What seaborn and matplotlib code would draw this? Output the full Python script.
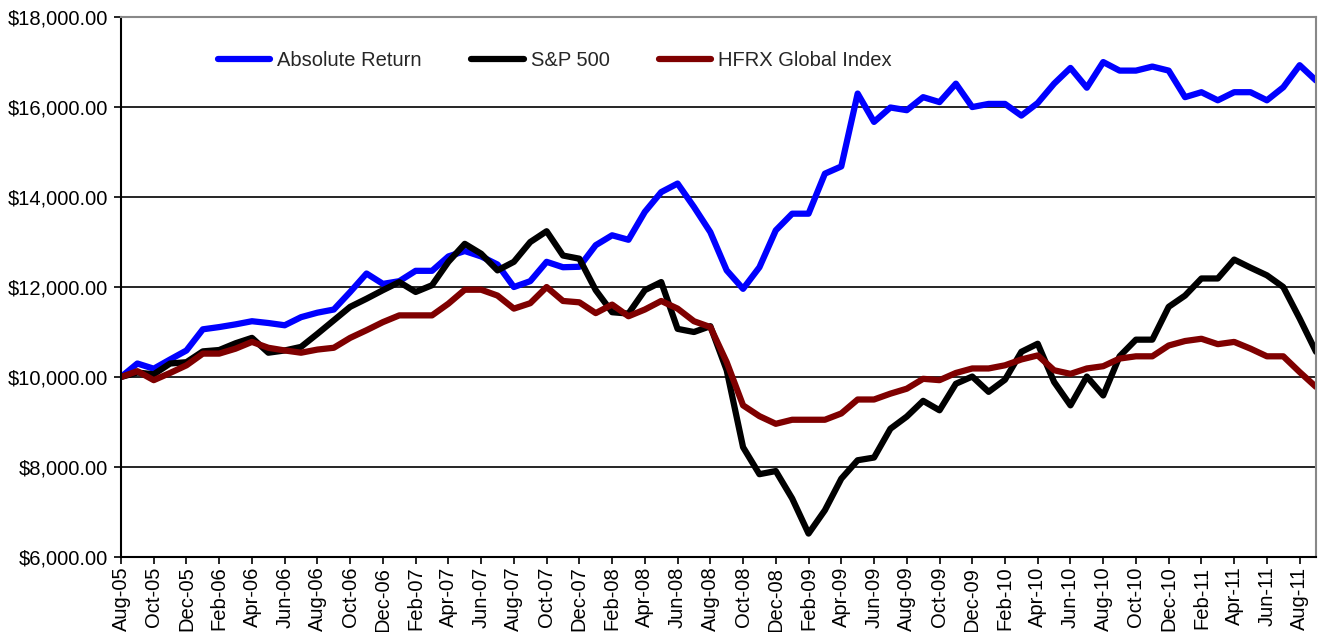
import pandas as pd
import numpy as np
import matplotlib
matplotlib.use("Agg")
import matplotlib.pyplot as plt
import matplotlib.ticker as mticker
import seaborn as sns

# ==========================================
# DATA
# ==========================================

months = pd.date_range(
    "2005-08-01",
    periods=74,
    freq="MS"
).strftime("%b-%y").tolist()

absolute_return = [
    10000, 10300, 10185, 10390, 10590, 11060, 11110, 11170, 11240, 11200,
    11150, 11330, 11430, 11500, 11890, 12300, 12070, 12130, 12360, 12360,
    12680, 12800, 12680, 12500, 12000, 12130, 12560, 12440, 12450, 12930,
    13150, 13050, 13670, 14110, 14300, 13780, 13220, 12370, 11960, 12440,
    13260, 13630, 13630, 14520, 14680, 16300, 15670, 15990, 15930, 16220,
    16110, 16520, 16000, 16070, 16070, 15810, 16090, 16520, 16870, 16430,
    17000, 16810, 16810, 16900, 16810, 16220, 16330, 16150, 16330, 16330,
    16150, 16440, 16930, 16590
]

sp500 = [
    10000, 10100, 10060, 10300, 10330, 10570, 10600, 10750, 10870, 10540,
    10590, 10670, 10960, 11260, 11560, 11740, 11930, 12110, 11890, 12040,
    12560, 12960, 12740, 12370, 12560, 13000, 13240, 12700, 12630, 11930,
    11440, 11410, 11930, 12110, 11070, 11000, 11130, 10150, 8440, 7840,
    7910, 7300, 6520, 7040, 7740, 8150, 8210, 8850, 9120, 9470,
    9260, 9850, 10010, 9670, 9940, 10560, 10740, 9890, 9370, 10010,
    9590, 10460, 10830, 10830, 11560, 11810, 12190, 12190, 12610, 12430,
    12260, 12000, 11300, 10560
]

hfrx_global = [
    10000, 10130, 9930, 10090, 10260, 10520, 10520, 10630, 10780, 10650,
    10590, 10540, 10610, 10650, 10870, 11040, 11220, 11370, 11370, 11370,
    11630, 11940, 11940, 11810, 11520, 11640, 12000, 11690, 11660, 11420,
    11610, 11350, 11500, 11690, 11520, 11240, 11110, 10330, 9370, 9130,
    8960, 9050, 9050, 9050, 9190, 9500, 9500, 9630, 9740, 9960,
    9930, 10090, 10190, 10190, 10260, 10390, 10480, 10150, 10070, 10190,
    10240, 10410, 10460, 10460, 10700, 10800, 10850, 10730, 10780, 10630,
    10460, 10460, 10110, 9780
]

series_names = [
    "Absolute Return",
    "S&P 500",
    "HFRX Global Index"
]

series_colors = [
    "#0000FF",
    "#000000",
    "#7F0000"
]

df = pd.DataFrame(
    {
        "Month": months,
        "Pos": np.arange(len(months)),
        series_names[0]: absolute_return,
        series_names[1]: sp500,
        series_names[2]: hfrx_global
    }
)

long_df = df.melt(
    id_vars=["Month", "Pos"],
    value_vars=series_names,
    var_name="Series",
    value_name="Value"
)

# ==========================================
# PLOT
# ==========================================

sns.set_style("white")
plt.rcParams["font.family"] = ["Liberation Sans", "DejaVu Sans"]

fig = plt.figure(figsize=(13.18, 6.32), dpi=100)
ax = fig.add_axes([0.0918, 0.1187, 0.9067, 0.8543])

sns.lineplot(
    data=long_df,
    x="Pos",
    y="Value",
    hue="Series",
    hue_order=series_names,
    palette=series_colors,
    linewidth=4.5,
    ax=ax
)

ax.set_xlim(0, len(months) - 1)
ax.set_ylim(6000, 18000)

ax.set_yticks(np.arange(6000, 18001, 2000))
ax.yaxis.set_major_formatter(
    mticker.StrMethodFormatter("${x:,.2f}")
)

tick_pos = np.arange(0, len(months), 2)
ax.set_xticks(tick_pos)
ax.set_xticklabels(
    [months[i] for i in tick_pos],
    rotation=90
)

ax.set_xlabel("")
ax.set_ylabel("")

ax.tick_params(
    axis="both",
    direction="out",
    length=5,
    width=1.2,
    color="black",
    labelsize=14.5,
    labelcolor="black",
    bottom=True,
    left=True
)
ax.tick_params(axis="y", pad=4)
ax.tick_params(axis="x", pad=2)

ax.grid(axis="y", color="black", linewidth=1.2)
ax.grid(axis="x", visible=False)
ax.set_axisbelow(True)

for side in ["left", "bottom"]:
    ax.spines[side].set_color("black")
    ax.spines[side].set_linewidth(1.5)

for side in ["top", "right"]:
    ax.spines[side].set_color("#888888")
    ax.spines[side].set_linewidth(1.5)

ax.legend(
    loc="center left",
    bbox_to_anchor=(0.0745, 0.92),
    ncol=3,
    frameon=False,
    fontsize=14.5,
    handlelength=2.6,
    handletextpad=0.35,
    columnspacing=2.45,
    borderaxespad=0
)

fig.savefig("out.png", dpi=100)
